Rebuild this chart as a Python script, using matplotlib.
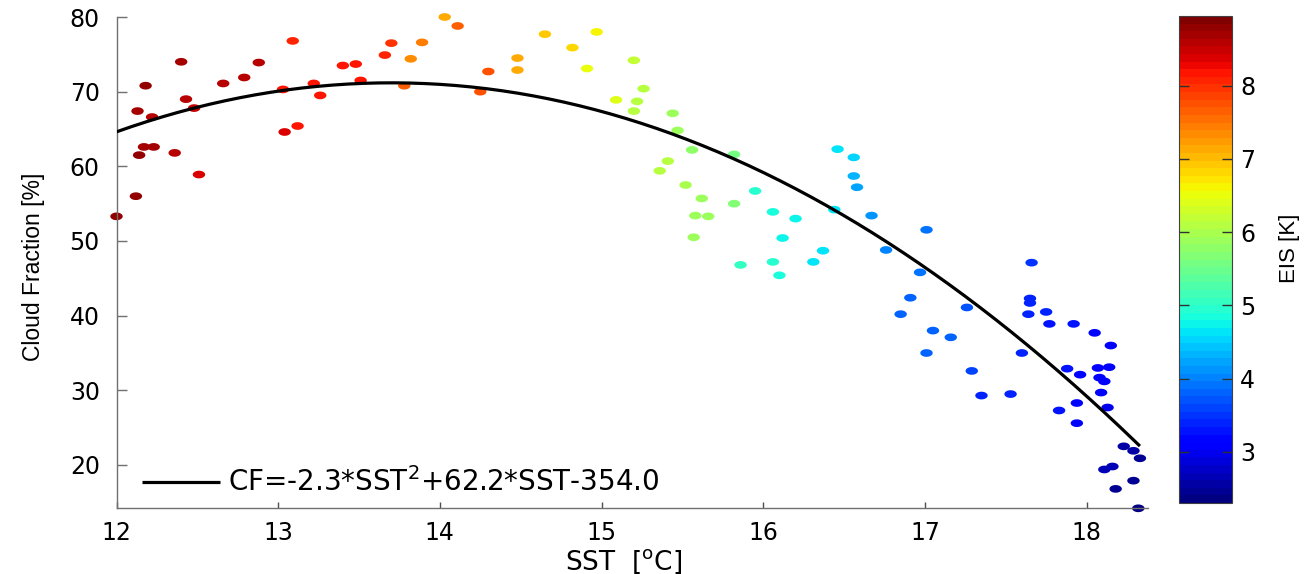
import numpy as np
import matplotlib
matplotlib.use("Agg")
import matplotlib.pyplot as plt
from matplotlib.colors import Normalize

# ---------------- data ----------------
sst = [12.00, 12.12, 12.13, 12.18, 12.14, 12.17, 12.23, 12.22, 12.40, 12.43,
       12.36, 12.48, 12.51, 12.66, 12.79, 12.88, 13.03, 13.04, 13.12, 13.09,
       13.22, 13.26, 13.40, 13.48, 13.51, 13.66, 13.70, 13.78, 13.82, 13.89,
       14.03, 14.11, 14.25, 14.30, 14.48, 14.48, 14.65, 14.82, 14.97, 14.91,
       15.09, 15.20, 15.26, 15.22, 15.20, 15.44, 15.47, 15.56, 15.41, 15.36,
       15.52, 15.62, 15.58, 15.66, 15.57, 15.82, 15.82, 15.95, 16.06, 16.20,
       16.12, 16.37, 15.86, 16.06, 16.10, 16.31, 16.46, 16.44, 16.56, 16.56,
       16.58, 16.67, 16.76, 17.01, 16.97, 16.91, 16.85, 17.05, 17.16, 17.01,
       17.26, 17.29, 17.35, 17.53, 17.66, 17.65, 17.65, 17.64, 17.60, 17.75,
       17.77, 17.92, 18.05, 18.15, 17.88, 17.96, 18.07, 18.14, 18.08, 18.11,
       18.09, 18.13, 17.94, 17.83, 17.94, 18.23, 18.29, 18.33, 18.11, 18.16,
       18.29, 18.18, 18.32]

cloud_fraction = [53.3, 56.0, 67.4, 70.8, 61.5, 62.6, 62.6, 66.6, 74.0, 69.0,
                  61.8, 67.8, 58.9, 71.1, 71.9, 73.9, 70.3, 64.6, 65.4, 76.8,
                  71.1, 69.5, 73.5, 73.7, 71.5, 74.9, 76.5, 70.8, 74.4, 76.6,
                  80.0, 78.8, 70.0, 72.7, 74.5, 72.9, 77.7, 75.9, 78.0, 73.1,
                  68.9, 74.2, 70.4, 68.7, 67.4, 67.1, 64.8, 62.2, 60.7, 59.4,
                  57.5, 55.7, 53.4, 53.3, 50.5, 61.6, 55.0, 56.7, 53.9, 53.0,
                  50.4, 48.7, 46.8, 47.2, 45.4, 47.2, 62.3, 54.2, 61.2, 58.7,
                  57.2, 53.4, 48.8, 51.5, 45.8, 42.4, 40.2, 38.0, 37.1, 35.0,
                  41.1, 32.6, 29.3, 29.5, 47.1, 42.3, 41.7, 40.2, 35.0, 40.5,
                  38.9, 38.9, 37.7, 36.0, 32.9, 32.1, 33.0, 33.1, 31.7, 31.2,
                  29.7, 27.7, 28.3, 27.3, 25.6, 22.5, 21.9, 20.9, 19.4, 19.8,
                  17.9, 16.8, 14.2]

eis = [8.8, 8.8, 8.7, 8.8, 8.8, 8.7, 8.7, 8.6, 8.7, 8.6,
       8.6, 8.5, 8.4, 8.6, 8.6, 8.6, 8.2, 8.4, 8.2, 8.1,
       8.2, 8.2, 8.2, 8.2, 8.2, 8.1, 8.0, 7.7, 7.3, 7.4,
       7.1, 7.7, 7.8, 7.8, 7.1, 7.1, 6.9, 6.8, 6.6, 6.5,
       6.4, 6.2, 6.1, 6.1, 6.1, 5.9, 5.9, 5.8, 6.1, 6.1,
       6.0, 5.9, 5.9, 5.9, 5.9, 5.6, 5.7, 4.9, 4.8, 4.7,
       4.7, 4.6, 5.1, 5.0, 4.85, 4.65, 4.6, 4.6, 4.5, 4.3,
       4.2, 4.1, 4.0, 3.9, 3.9, 3.8, 3.8, 3.8, 3.8, 3.8,
       3.7, 3.6, 3.4, 3.4, 3.5, 3.4, 3.4, 3.4, 3.4, 3.4,
       3.3, 3.3, 3.2, 3.1, 3.3, 3.2, 3.1, 3.1, 3.1, 3.1,
       3.1, 3.0, 3.2, 3.3, 3.2, 2.6, 2.6, 2.5, 2.7, 2.7,
       2.5, 2.5, 2.4]

# quadratic fit as drawn in the figure (highest power first)
fit_coeffs = [-2.27, 62.2, -354.9]
fit_label = "CF=-2.3*SST$^{2}$+62.2*SST-354.0"

x_ticks = [12, 13, 14, 15, 16, 17, 18]
y_ticks = [20, 30, 40, 50, 60, 70, 80]
cbar_ticks = [3, 4, 5, 6, 7, 8]
eis_range = (2.3, 8.95)

# ---------------- figure ----------------
W, H = 1315, 574
fig = plt.figure(figsize=(W / 100, H / 100), dpi=100)

def px_axes(l, t, r, b):
    return [l / W, 1 - b / H, (r - l) / W, (b - t) / H]

ax = fig.add_axes(px_axes(116.5, 17, 1148, 508))
cax = fig.add_axes(px_axes(1179, 16, 1232, 503))

cmap = plt.get_cmap("jet").resampled(64)
norm = Normalize(vmin=eis_range[0], vmax=eis_range[1])

# ellipse-shaped marker (wider than tall, as in the reference)
theta = np.linspace(0, 2 * np.pi, 40)
ellipse = np.column_stack([np.cos(theta), 0.62 * np.sin(theta)])

sc = ax.scatter(sst, cloud_fraction, c=eis, cmap=cmap, norm=norm,
                marker=ellipse, s=80, edgecolors="none", zorder=2,
                clip_on=False)

xs = np.linspace(min(sst), max(sst), 200)
ax.plot(xs, np.polyval(fit_coeffs, xs), color="black", lw=2.3,
        zorder=3, label=fit_label, solid_capstyle="butt")

ax.set_xlim(12, 18.38)
ax.set_ylim(14.24, 80)
ax.set_xticks(x_ticks)
ax.set_yticks(y_ticks)

for side in ("top", "right"):
    ax.spines[side].set_visible(False)
for side in ("left", "bottom"):
    ax.spines[side].set_color("#707070")
    ax.spines[side].set_linewidth(1.0)

ax.tick_params(axis="x", direction="in", length=4.5, width=1.0,
               color="#505050", pad=9, labelsize=17)
ax.tick_params(axis="y", direction="in", length=7, width=1.0,
               color="#707070", pad=12, labelsize=17)
for lab in ax.get_xticklabels() + ax.get_yticklabels():
    lab.set_family("DejaVu Sans")

ax.set_xlabel("SST  [$^{\\mathrm{o}}$C]", fontsize=19, family="DejaVu Sans")
ax.xaxis.set_label_coords(0.492, -0.082)
ax.set_ylabel("Cloud Fraction [%]", fontsize=16.5, family="Liberation Sans")
ax.yaxis.set_label_coords(-0.069, 0.491)

leg = ax.legend(loc="center left", bbox_to_anchor=(0.0247, 0.052),
                frameon=False, fontsize=20, handlelength=2.8,
                handletextpad=0.3, borderpad=0, borderaxespad=0)
for t in leg.get_texts():
    t.set_family("DejaVu Sans")

# ---------------- colorbar ----------------
cb = fig.colorbar(sc, cax=cax, ticks=cbar_ticks)
cb.outline.set_edgecolor("#404040")
cb.outline.set_linewidth(0.8)
cax.tick_params(axis="y", direction="in", length=7, width=1.0,
                color="#303030", left=True, right=True, pad=6, labelsize=17)
for lab in cax.get_yticklabels():
    lab.set_family("DejaVu Sans")

fig.text(1290 / W, 1 - 248 / H, "EIS [K]", rotation=90, ha="center",
         va="center", fontsize=16, family="Liberation Sans")

fig.savefig("out.png", dpi=100, facecolor="white")
